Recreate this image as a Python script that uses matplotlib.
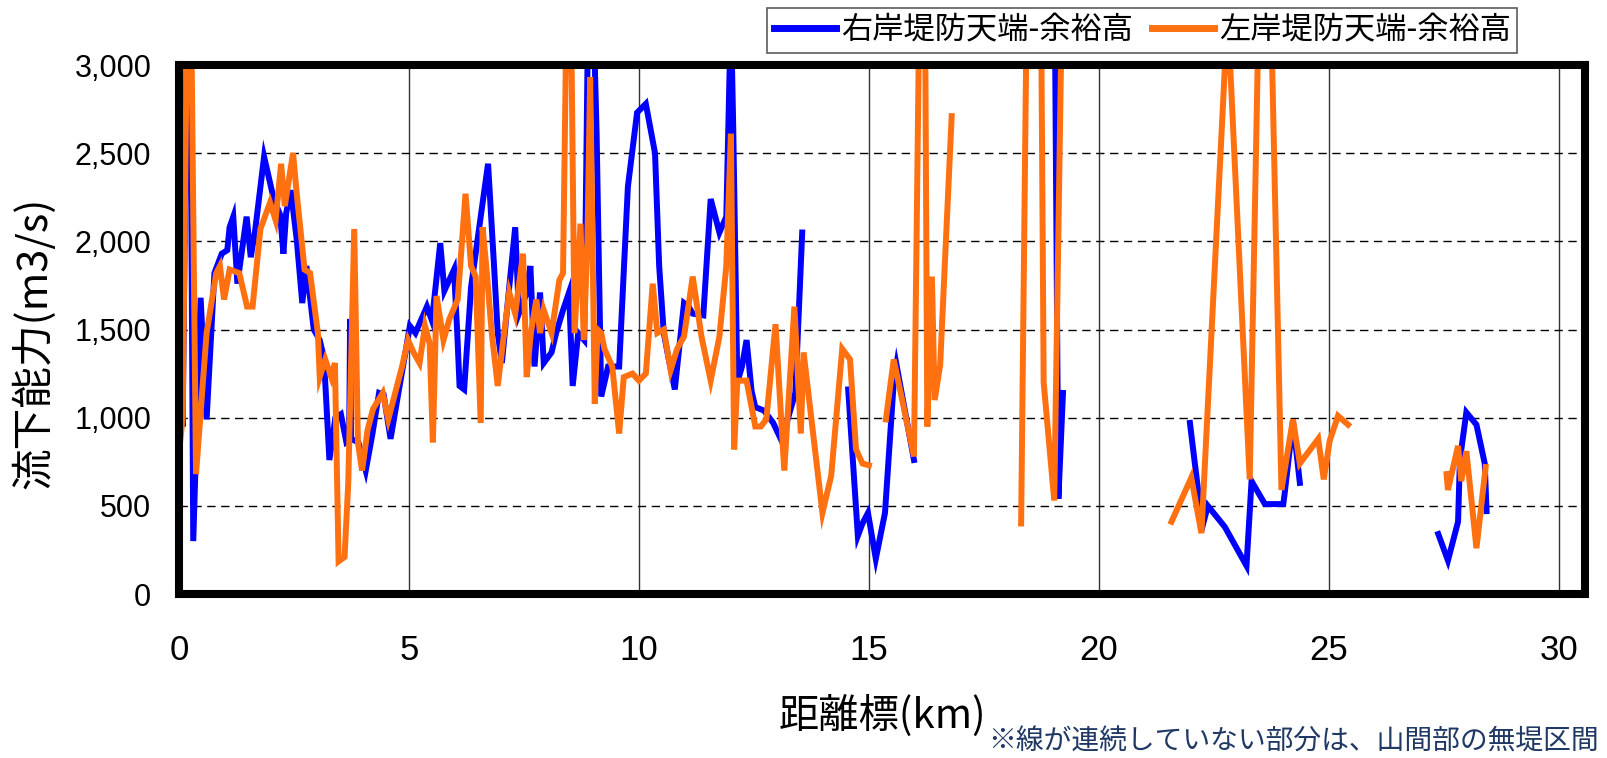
"""
流下能力縦断図（右岸・左岸 堤防天端-余裕高）
"""

import numpy as np
import matplotlib
matplotlib.use("Agg")
import matplotlib.pyplot as plt
from matplotlib.ticker import FuncFormatter, MultipleLocator

plt.rcParams["font.family"] = ["Liberation Sans", "Noto Sans CJK JP", "DejaVu Sans"]

JP_FONT = ["Noto Sans CJK JP", "DejaVu Sans"]

# 距離標(km) と 流下能力(m3/s)  None = 無堤区間で線を切る
km_right = [
    0.00, 0.08, 0.18, 0.24, 0.31, 0.47, 0.60, 0.77, 0.93, 1.05, 1.10, 1.18, 1.27,
    1.47, 1.56, 1.65, 1.85, 2.06, 2.20, 2.27, 2.33, 2.43, 2.56, 2.68, 2.77, 2.93,
    3.06, 3.14, 3.18, 3.27, 3.40, 3.52, 3.64, 3.70, 3.72, 3.74, 3.90, 4.06, 4.20,
    4.35, 4.45, 4.60, 4.77, 4.93, 5.02, 5.14, 5.39, 5.50, 5.68, 5.77, 5.98, 6.05,
    6.10, 6.20, 6.35, 6.56, 6.72, 6.85, 6.93, 7.02, 7.18, 7.31, 7.39, 7.55, 7.64,
    7.73, 7.85, 7.93, 8.10, 8.20, 8.35, 8.48, 8.56, 8.68, 8.81, 8.90, 9.00, 9.08,
    9.18, 9.33, 9.57, 9.76, 9.96, 10.15, 10.35, 10.44, 10.54, 10.65, 10.78, 10.98,
    11.08, 11.17, 11.40, 11.56, 11.75, 11.90, 12.00, 12.05, 12.14, 12.24, 12.34,
    12.45, 12.53, 12.72, 12.92, 13.10, 13.40, 13.55, None,
    14.55, 14.76, 14.86, 14.98, 15.15, 15.35, 15.54, 15.60, 15.98, None,
    18.98, 19.04, 19.12, 19.22, None,
    21.98, 22.19, 22.23, 22.37, 22.74, 23.21, 23.32, 23.61, 24.01, 24.04, 24.22,
    24.37, None,
    27.38, 27.59, 27.81, 27.85, 27.99, 28.21, 28.39, 28.43,
]
q_right = [
    1400, 950, 3400, 3400, 300, 1680, 990, 1820, 1930, 1950, 2080, 2140, 1760,
    2140, 1910, 2050, 2480, 2240, 2150, 1930, 2160, 2290, 2010, 1650, 1860, 1500,
    1440, 1350, 1200, 760, 1000, 1020, 860, 870, 1560, 880, 860, 700, 900,
    1140, 1130, 880, 1140, 1380, 1520, 1480, 1630, 1550, 1990, 1720, 1840, 1480,
    1180, 1160, 1740, 2140, 2440, 1860, 1480, 1310, 1740, 2080, 1590, 1700, 1860,
    1290, 1710, 1310, 1370, 1480, 1610, 1710, 1180, 1480, 1440, 3400, 3400, 2610,
    1120, 1290, 1290, 2310, 2730, 2780, 2500, 1860, 1480, 1330, 1160, 1650,
    1630, 1590, 1580, 2240, 2050, 2140, 3300, 2650, 1200, 1290, 1440,
    1150, 1060, 1040, 970, 870, 1140, 2050, None,
    1160, 330, 400, 460, 200, 460, 1200, 1300, 760, None,
    3400, 3400, 540, 1140, None,
    970, 520, 360, 500, 380, 160, 640, 510, 510, 570, 980,
    630, None,
    340, 190, 410, 760, 1030, 960, 740, 470,
]

km_left = [
    0.00, 0.08, 0.18, 0.26, 0.37, 0.60, 0.81, 0.89, 0.98, 1.10, 1.31, 1.48, 1.60,
    1.77, 1.98, 2.10, 2.22, 2.30, 2.48, 2.56, 2.73, 2.85, 3.02, 3.06, 3.18, 3.31,
    3.39, 3.47, 3.60, 3.68, 3.81, 3.89, 3.98, 4.10, 4.22, 4.43, 4.55, 4.77, 4.85,
    4.98, 5.10, 5.23, 5.35, 5.45, 5.52, 5.60, 5.75, 5.88, 6.06, 6.23, 6.35, 6.45,
    6.56, 6.60, 6.68, 6.80, 6.93, 7.05, 7.18, 7.31, 7.48, 7.56, 7.65, 7.77, 7.85,
    7.93, 8.10, 8.27, 8.35, 8.43, 8.52, 8.60, 8.73, 8.80, 8.88, 8.94, 9.04, 9.10,
    9.18, 9.25, 9.42, 9.57, 9.67, 9.86, 10.00, 10.15, 10.30, 10.40, 10.54, 10.69,
    10.83, 10.98, 11.17, 11.36, 11.56, 11.75, 11.90, 12.00, 12.07, 12.14, 12.34,
    12.53, 12.65, 12.77, 12.97, 13.16, 13.38, 13.52, 13.58, 13.99, 14.18, 14.42,
    14.59, 14.72, 14.86, 15.00, None,
    15.37, 15.54, 15.98, 16.10, 16.22, 16.27, 16.37, 16.43, 16.55, 16.80, None,
    18.31, 18.50, 18.70, 18.80, 19.03, 19.20, None,
    21.58, 22.01, 22.23, 22.80, 23.28, 23.60, 23.97, 24.22, 24.37, 24.77, 24.89,
    25.02, 25.20, 25.42, None,
    27.56, 27.59, 27.81, 27.88, 27.99, 28.21, 28.41,
]
q_left = [
    800, 1000, 3400, 3400, 680, 1480, 1820, 1860, 1670, 1840, 1820, 1630, 1630,
    2070, 2220, 2120, 2440, 2200, 2500, 2270, 1840, 1820, 1480, 1230, 1330, 1230,
    1310, 185, 210, 630, 2070, 860, 700, 930, 1050, 1140, 990, 1210, 1290,
    1440, 1370, 1310, 1520, 1420, 860, 1690, 1440, 1560, 1670, 2270, 1860, 1800,
    970, 2080, 1860, 1480, 1180, 1440, 1710, 1590, 1930, 1230, 1480, 1670, 1480,
    1610, 1480, 1780, 1820, 3400, 3400, 1480, 2100, 1440, 2000, 2930, 1080, 1500,
    1480, 1390, 1290, 910, 1230, 1250, 1210, 1250, 1760, 1480, 1500, 1270,
    1390, 1460, 1800, 1460, 1210, 1460, 1860, 2610, 820, 1210, 1210,
    950, 950, 990, 1530, 700, 1630, 910, 1370, 460, 670, 1390,
    1330, 820, 740, 730, None,
    990, 1330, 780, 3400, 3400, 950, 1800, 1100, 1300, 2710, None,
    400, 5000, 5000, 1200, 530, 3400, None,
    410, 660, 345, 3300, 650, 5000, 590, 990, 740, 880, 650,
    870, 1010, 960, None,
    680, 590, 840, 640, 810, 260, 720,
]

LABEL_RIGHT = "右岸堤防天端-余裕高"
LABEL_LEFT = "左岸堤防天端-余裕高"
NOTE = "※線が連続していない部分は、山間部の無堤区間"

BLUE = "#0000FF"
ORANGE = "#FF7011"


def main():
    fig = plt.figure(figsize=(16.07, 7.58), dpi=100)
    ax = fig.add_axes([179 / 1607, 1 - 594 / 758, (1585 - 179) / 1607, (594 - 65) / 758])

    x_r = np.array(km_right, dtype=float)
    y_r = np.array(q_right, dtype=float)
    x_l = np.array(km_left, dtype=float)
    y_l = np.array(q_left, dtype=float)

    ax.plot(x_r, y_r, color=BLUE, lw=4.3, label=LABEL_RIGHT, solid_joinstyle="miter")
    ax.plot(x_l, y_l, color=ORANGE, lw=4.3, label=LABEL_LEFT, solid_joinstyle="miter")

    ax.set_xlim(0, 30.57)
    ax.set_ylim(0, 3000)
    ax.xaxis.set_major_locator(MultipleLocator(5))
    ax.yaxis.set_major_locator(MultipleLocator(500))
    ax.yaxis.set_major_formatter(FuncFormatter(lambda v, _: f"{v:,.0f}"))

    # 格子線：縦は実線、横は破線
    for xv in range(5, 31, 5):
        ax.axvline(xv, color="#333333", lw=1.0, zorder=1)
    for yv in range(500, 3000, 500):
        ax.axhline(yv, color="black", lw=1.0, ls=(0, (6, 4)), zorder=1)

    for sp in ax.spines.values():
        sp.set_linewidth(5.8)
        sp.set_color("black")

    ax.tick_params(axis="both", length=0)
    ax.tick_params(axis="y", labelsize=22, pad=20)
    ax.tick_params(axis="x", labelsize=25, pad=29)

    ax.set_ylabel("流下能力(m3/s)", fontsize=30, family=JP_FONT)
    ax.yaxis.set_label_coords(-0.088, 0.474)
    ax.set_xlabel("距離標(km)", fontsize=29, family=JP_FONT)
    ax.xaxis.set_label_coords(0.5, -0.19)

    leg = ax.legend(
        loc="upper right", bbox_to_anchor=(1517 / 1607, 1 - 8 / 758),
        bbox_transform=fig.transFigure, ncol=2, frameon=True, fancybox=False,
        borderaxespad=0, borderpad=0.2, handlelength=2.0, handletextpad=0.15,
        columnspacing=0.6, prop={"family": JP_FONT, "size": 22.5},
    )
    leg.get_frame().set_edgecolor("#333333")
    leg.get_frame().set_linewidth(1.2)
    for line in leg.get_lines():
        line.set_linewidth(5)

    fig.text(1599 / 1607, 1 - 742 / 758, NOTE, ha="right", va="center",
             fontsize=20, color="#1F3864", family=JP_FONT)

    fig.savefig("out.png", dpi=100)
    plt.close(fig)


if __name__ == "__main__":
    main()
